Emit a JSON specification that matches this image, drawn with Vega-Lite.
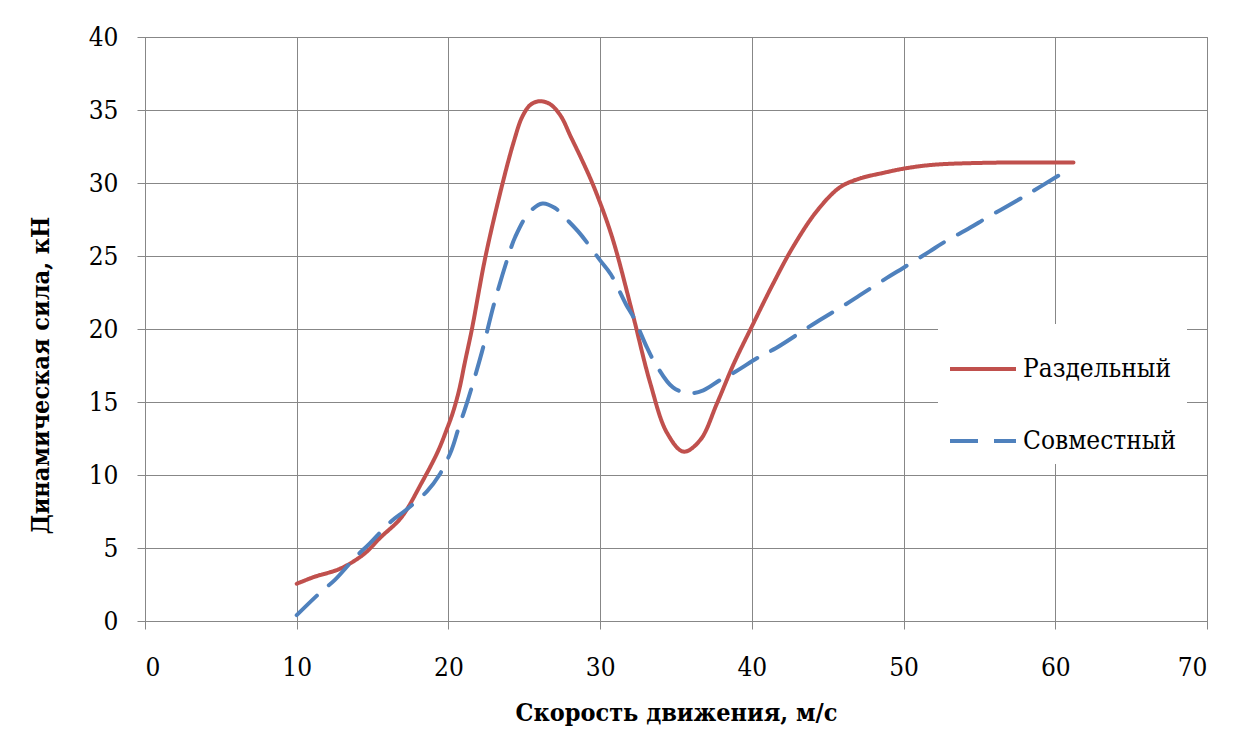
{
  "$schema": "https://vega.github.io/schema/vega-lite/v6.json",
  "width": 1062,
  "height": 584,
  "autosize": {"type": "none"},
  "padding": {"left": 145, "top": 37, "right": 33, "bottom": 130},
  "background": "white",
  "data": {
    "values": [
      {"s": "Раздельный", "v": 10, "f": 2.55},
      {"s": "Раздельный", "v": 11.1, "f": 3.0},
      {"s": "Раздельный", "v": 12.9, "f": 3.6},
      {"s": "Раздельный", "v": 14.45, "f": 4.6},
      {"s": "Раздельный", "v": 15.5, "f": 5.7},
      {"s": "Раздельный", "v": 16.9, "f": 7.1},
      {"s": "Раздельный", "v": 18.2, "f": 9.4},
      {"s": "Раздельный", "v": 19.3, "f": 11.6},
      {"s": "Раздельный", "v": 19.9, "f": 13.15},
      {"s": "Раздельный", "v": 20.3, "f": 14.3},
      {"s": "Раздельный", "v": 20.7, "f": 15.8},
      {"s": "Раздельный", "v": 21.1, "f": 17.8},
      {"s": "Раздельный", "v": 21.55, "f": 20.0},
      {"s": "Раздельный", "v": 22.45, "f": 25.0},
      {"s": "Раздельный", "v": 23.55, "f": 29.9},
      {"s": "Раздельный", "v": 24.3, "f": 32.8},
      {"s": "Раздельный", "v": 24.85, "f": 34.5},
      {"s": "Раздельный", "v": 25.4, "f": 35.35},
      {"s": "Раздельный", "v": 26.0, "f": 35.6},
      {"s": "Раздельный", "v": 26.7, "f": 35.4},
      {"s": "Раздельный", "v": 27.4, "f": 34.6},
      {"s": "Раздельный", "v": 28.05, "f": 33.2},
      {"s": "Раздельный", "v": 28.7, "f": 31.8},
      {"s": "Раздельный", "v": 29.4, "f": 30.2},
      {"s": "Раздельный", "v": 30.05, "f": 28.5},
      {"s": "Раздельный", "v": 30.6, "f": 26.9},
      {"s": "Раздельный", "v": 31.1, "f": 25.2},
      {"s": "Раздельный", "v": 32.2, "f": 20.8},
      {"s": "Раздельный", "v": 33.3, "f": 16.3},
      {"s": "Раздельный", "v": 34.4, "f": 12.9},
      {"s": "Раздельный", "v": 35.5, "f": 11.6},
      {"s": "Раздельный", "v": 36.6, "f": 12.4},
      {"s": "Раздельный", "v": 37.7, "f": 14.9},
      {"s": "Раздельный", "v": 38.8, "f": 17.6},
      {"s": "Раздельный", "v": 40.06, "f": 20.3},
      {"s": "Раздельный", "v": 41.4, "f": 23.1},
      {"s": "Раздельный", "v": 42.7, "f": 25.6},
      {"s": "Раздельный", "v": 44.3, "f": 28.1},
      {"s": "Раздельный", "v": 45.8, "f": 29.7},
      {"s": "Раздельный", "v": 47.1, "f": 30.3},
      {"s": "Раздельный", "v": 48.7, "f": 30.7},
      {"s": "Раздельный", "v": 50.1, "f": 31.0},
      {"s": "Раздельный", "v": 52.0, "f": 31.25},
      {"s": "Раздельный", "v": 56.4, "f": 31.4},
      {"s": "Раздельный", "v": 61.2, "f": 31.4},
      {"s": "Совместный", "v": 10, "f": 0.4},
      {"s": "Совместный", "v": 11.6, "f": 2.0},
      {"s": "Совместный", "v": 12.5, "f": 2.8},
      {"s": "Совместный", "v": 13.9, "f": 4.4},
      {"s": "Совместный", "v": 14.8, "f": 5.3},
      {"s": "Совместный", "v": 16.2, "f": 6.8},
      {"s": "Совместный", "v": 17.2, "f": 7.6},
      {"s": "Совместный", "v": 18.6, "f": 8.9},
      {"s": "Совместный", "v": 19.4, "f": 10.0},
      {"s": "Совместный", "v": 20.2, "f": 11.7},
      {"s": "Совместный", "v": 20.65, "f": 13.15},
      {"s": "Совместный", "v": 21.3, "f": 15.2},
      {"s": "Совместный", "v": 22.2, "f": 18.4},
      {"s": "Совместный", "v": 23.0, "f": 21.7},
      {"s": "Совместный", "v": 23.95, "f": 25.0},
      {"s": "Совместный", "v": 24.4, "f": 26.3},
      {"s": "Совместный", "v": 25.3, "f": 27.95},
      {"s": "Совместный", "v": 26.2, "f": 28.6},
      {"s": "Совместный", "v": 27.0, "f": 28.3},
      {"s": "Совместный", "v": 27.9, "f": 27.4},
      {"s": "Совместный", "v": 28.7, "f": 26.5},
      {"s": "Совместный", "v": 30.0, "f": 24.7},
      {"s": "Совместный", "v": 30.7, "f": 23.75},
      {"s": "Совместный", "v": 31.7, "f": 21.7},
      {"s": "Совместный", "v": 32.2, "f": 20.8},
      {"s": "Совместный", "v": 33.1, "f": 18.7},
      {"s": "Совместный", "v": 33.6, "f": 17.7},
      {"s": "Совместный", "v": 34.8, "f": 16.0},
      {"s": "Совместный", "v": 35.9, "f": 15.6},
      {"s": "Совместный", "v": 36.8, "f": 15.8},
      {"s": "Совместный", "v": 37.9, "f": 16.5},
      {"s": "Совместный", "v": 38.8, "f": 17.0},
      {"s": "Совместный", "v": 40.5, "f": 18.1},
      {"s": "Совместный", "v": 41.6, "f": 18.7},
      {"s": "Совместный", "v": 43.4, "f": 19.9},
      {"s": "Совместный", "v": 44.3, "f": 20.5},
      {"s": "Совместный", "v": 46.2, "f": 21.7},
      {"s": "Совместный", "v": 47.1, "f": 22.3},
      {"s": "Совместный", "v": 48.9, "f": 23.5},
      {"s": "Совместный", "v": 50.0, "f": 24.2},
      {"s": "Совместный", "v": 51.7, "f": 25.3},
      {"s": "Совместный", "v": 52.6, "f": 25.9},
      {"s": "Совместный", "v": 54.4, "f": 26.95},
      {"s": "Совместный", "v": 55.45, "f": 27.6},
      {"s": "Совместный", "v": 57.4, "f": 28.75},
      {"s": "Совместный", "v": 58.3, "f": 29.3},
      {"s": "Совместный", "v": 60.2, "f": 30.5}
    ]
  },
  "mark": {"type": "line", "interpolate": "catmull-rom", "strokeWidth": 4, "strokeCap": "round"},
  "encoding": {
    "x": {
      "field": "v", "type": "quantitative",
      "scale": {"domain": [0, 70], "nice": false},
      "axis": {
        "values": [0, 10, 20, 30, 40, 50, 60, 70],
        "title": "Скорость движения, м/с",
        "labelBaseline": "alphabetic",
        "labelPadding": 46,
        "titleX": 531, "titleY": 99,
        "titleBaseline": "alphabetic", "titleAlign": "center"
      }
    },
    "y": {
      "field": "f", "type": "quantitative",
      "scale": {"domain": [0, 40], "nice": false},
      "axis": {
        "values": [0, 5, 10, 15, 20, 25, 30, 35, 40],
        "title": "Динамическая сила, кН",
        "labelPadding": 19,
        "labelBaseline": "middle",
        "titleX": -97, "titleY": 338, "titleAngle": 270,
        "titleAlign": "center", "titleBaseline": "alphabetic"
      }
    },
    "color": {
      "field": "s", "type": "nominal",
      "scale": {"domain": ["Раздельный", "Совместный"], "range": ["#C0504D", "#4F81BD"]},
      "legend": {"title": null, "orient": "none", "legendX": 793, "legendY": 287}
    },
    "strokeDash": {
      "field": "s", "type": "nominal",
      "scale": {"domain": ["Раздельный", "Совместный"], "range": [[1, 0], [28, 16]]},
      "legend": {"title": null, "orient": "none", "legendX": 793, "legendY": 287}
    }
  },
  "config": {
    "font": "DejaVu Serif Condensed, DejaVu Serif",
    "view": {"stroke": "#878787"},
    "axis": {
      "domainColor": "#878787",
      "tickColor": "#878787",
      "gridColor": "#878787",
      "gridOpacity": 1,
      "grid": true,
      "tickSize": 8,
      "labelFont": "DejaVu Serif Condensed, DejaVu Serif",
      "labelFontSize": 26,
      "labelColor": "black",
      "titleFont": "DejaVu Serif Condensed, DejaVu Serif",
      "titleFontSize": 25,
      "titleFontWeight": "bold",
      "titleColor": "black"
    },
    "legend": {
      "fillColor": "white",
      "padding": 10,
      "symbolType": "stroke",
      "symbolSize": 4356,
      "symbolStrokeWidth": 4,
      "labelFont": "DejaVu Serif Condensed, DejaVu Serif",
      "labelFontSize": 26,
      "labelColor": "black",
      "labelOffset": 5,
      "rowPadding": 24,
      "labelLimit": 400
    }
  }
}
